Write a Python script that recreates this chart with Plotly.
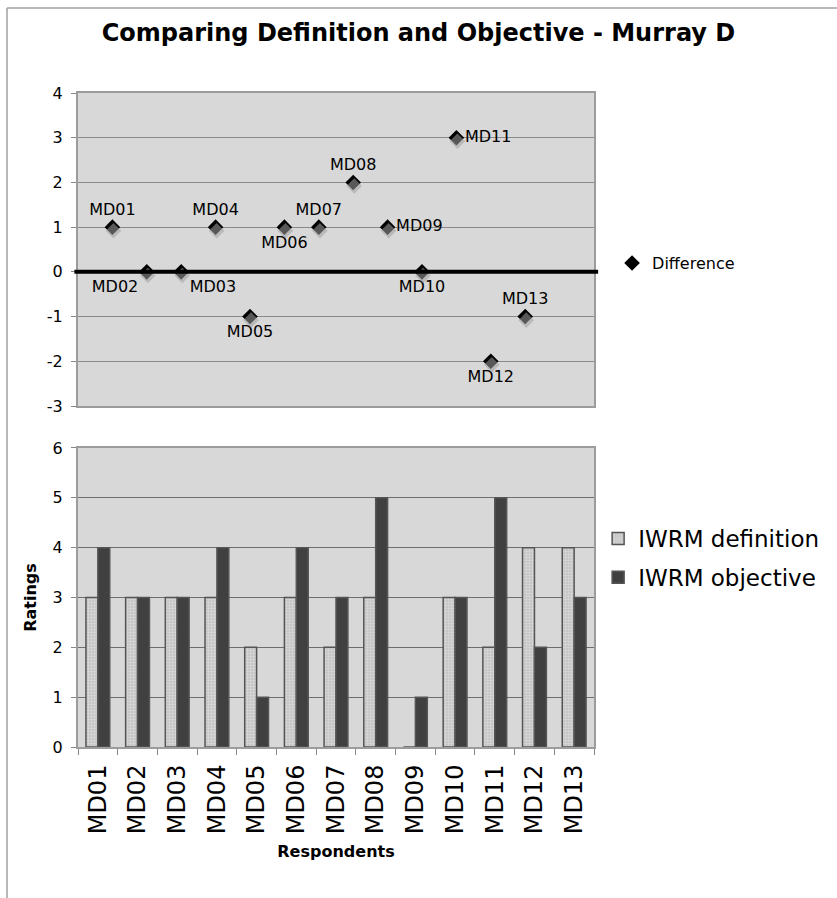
import plotly.graph_objects as go

# Respondents and their ratings
respondents = ["MD01", "MD02", "MD03", "MD04", "MD05", "MD06", "MD07",
               "MD08", "MD09", "MD10", "MD11", "MD12", "MD13"]
positions = list(range(1, 14))
definition = [3, 3, 3, 3, 2, 3, 2, 3, 0, 3, 2, 4, 4]
objective = [4, 3, 3, 4, 1, 4, 3, 5, 1, 3, 5, 2, 3]
difference = [1, 0, 0, 1, -1, 1, 1, 2, 1, 0, 3, -2, -1]
label_positions = ["top center", "bottom left", "bottom right", "top center",
                   "bottom center", "bottom center", "top center", "top center",
                   "middle right", "bottom center", "middle right",
                   "bottom center", "top center"]
diff_ticks = [-3, -2, -1, 0, 1, 2, 3, 4]
rating_ticks = [0, 1, 2, 3, 4, 5, 6]

FONT = "DejaVu Sans"
X_RANGE = [0, 15]
Y_RANGE = [-3, 4]
# small drop-shadow offset for the diamonds (in data units)
SHX, SHY = 0.03, 0.08

fig = go.Figure()

# shadow of the difference markers
fig.add_trace(go.Scatter(
    x=positions, y=difference, mode="markers",
    marker=dict(symbol="diamond", size=12, color="rgba(160,160,160,0.55)"),
    xaxis="x3", yaxis="y3", showlegend=False, hoverinfo="skip",
))

# difference markers with respondent labels
fig.add_trace(go.Scatter(
    x=positions, y=difference, mode="markers+text",
    name="Difference", text=respondents, textposition=label_positions,
    textfont=dict(family=FONT, size=16, color="black"),
    marker=dict(symbol="diamond", size=12, color="black"),
    xaxis="x", yaxis="y", legend="legend",
))

# rating bars
fig.add_trace(go.Bar(
    x=respondents, y=definition, name="IWRM definition",
    marker=dict(color="#c6c6c6", line=dict(color="#555555", width=1.5),
                pattern=dict(shape="+", size=3, solidity=0.35,
                             fgcolor="#ededed")),
    xaxis="x2", yaxis="y2", legend="legend2", legendgroup="def",
))
fig.add_trace(go.Bar(
    x=respondents, y=objective, name="IWRM objective",
    marker=dict(color="#404040", line=dict(color="#555555", width=1.5)),
    xaxis="x2", yaxis="y2", legend="legend2", legendgroup="obj",
))

axis_line = dict(showline=True, mirror=True, linecolor="#9c9c9c", linewidth=2)
tick_font = dict(family=FONT, size=16, color="black")

fig.update_layout(
    width=837, height=898,
    margin=dict(l=78, r=243, t=93, b=151),
    paper_bgcolor="white", plot_bgcolor="#d8d8d8",
    font=dict(family=FONT, color="black"),
    title=dict(text="<b>Comparing Definition and Objective - Murray D</b>",
               font=dict(family=FONT, size=24, color="black"),
               x=0.5, xanchor="center", y=1 - 33 / 898, yanchor="middle"),
    barmode="group", bargap=0.4, bargroupgap=0,
    xaxis=dict(domain=[0, 1], range=X_RANGE, anchor="y",
               showticklabels=False, ticks="", showgrid=False,
               zeroline=False, **axis_line),
    yaxis=dict(domain=[0.5214, 1], range=Y_RANGE, anchor="x",
               tickmode="array", tickvals=diff_ticks,
               ticktext=[str(v) for v in diff_ticks],
               ticks="outside", ticklen=5, tickcolor="#888888",
               ticklabelstandoff=5,
               tickfont=tick_font, showgrid=True, gridcolor="#8a8a8a",
               gridwidth=1, zeroline=False, **axis_line),
    xaxis3=dict(overlaying="x", range=[X_RANGE[0] - SHX, X_RANGE[1] - SHX],
                visible=False),
    yaxis3=dict(overlaying="y", range=[Y_RANGE[0] + SHY, Y_RANGE[1] + SHY],
                visible=False),
    xaxis2=dict(domain=[0, 1], anchor="y2", type="category",
                tickangle=-90, tickson="boundaries", ticks="outside",
                ticklen=6, tickcolor="#888888", ticklabelstandoff=6,
                tickfont=dict(family=FONT, size=24, color="black"),
                title=dict(text="<b>Respondents</b>",
                           font=dict(family=FONT, size=16, color="black"),
                           standoff=12),
                showgrid=False, **axis_line),
    yaxis2=dict(domain=[0, 0.4572], range=[0, 6], anchor="x2",
                tickmode="array", tickvals=rating_ticks,
                ticktext=[str(v) for v in rating_ticks],
                ticks="outside", ticklen=5, tickcolor="#888888",
                ticklabelstandoff=5,
                tickfont=tick_font, showgrid=True, gridcolor="#6e6e6e",
                gridwidth=1, zeroline=False,
                title=dict(text="<b>Ratings</b>",
                           font=dict(family=FONT, size=16, color="black"),
                           standoff=12),
                **axis_line),
    legend=dict(x=1.035, xanchor="left", y=0.74, yanchor="middle",
                font=dict(family=FONT, size=16, color="black"),
                bgcolor="rgba(0,0,0,0)"),
    legend2=dict(x=1.008, xanchor="left", y=0.289, yanchor="middle",
                 font=dict(family=FONT, size=23, color="black"),
                 traceorder="grouped", tracegroupgap=6,
                 bgcolor="rgba(0,0,0,0)"),
    shapes=[
        # heavy horizontal axis at zero
        dict(type="line", xref="x domain", yref="y",
             x0=-0.007, x1=1.008, y0=0, y1=0,
             line=dict(color="black", width=4), layer="above"),
        # outer frame (left and top edges)
        dict(type="line", xref="paper", yref="paper",
             x0=(7 - 78) / 516, x1=(7 - 78) / 516,
             y0=(747 - 898) / 654, y1=(747 - 8) / 654,
             line=dict(color="#a0a0a0", width=1.5)),
        dict(type="line", xref="paper", yref="paper",
             x0=(7 - 78) / 516, x1=(837 - 78) / 516,
             y0=(747 - 8) / 654, y1=(747 - 8) / 654,
             line=dict(color="#a0a0a0", width=1.5)),
    ],
)

fig.write_html("out.html")
